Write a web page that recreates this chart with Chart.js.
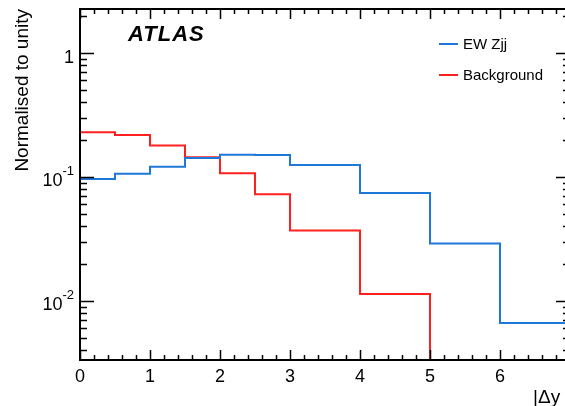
<!DOCTYPE html>
<html>
<head>
<meta charset="utf-8">
<script src="https://cdn.jsdelivr.net/npm/chart.js@4/dist/chart.umd.min.js"></script>
<style>
  html, body { margin: 0; padding: 0; background: #fff; overflow: hidden; }
  #wrap { width: 575px; height: 406px; }
</style>
</head>
<body>
<div id="wrap"><canvas id="myChart" width="575" height="406"></canvas></div>
<script>
// bin edges in |dy| and normalised contents per bin
const binEdges = [0, 0.5, 1, 1.5, 2, 2.5, 3, 4, 5, 6, 7];
const ewZjj = [0.096, 0.106, 0.121, 0.142, 0.151, 0.150, 0.1245, 0.0743, 0.029, 0.00665];
const background = [0.229, 0.218, 0.179, 0.144, 0.107, 0.0726, 0.0369, 0.0114, 0, 0];

const xTickLabels = ['0', '1', '2', '3', '4', '5', '6'];
const yTickValues = [1, 0.1, 0.01];
const yTickBases = ['1', '10', '10'];
const yTickExps = ['', '-1', '-2'];

const yMin = 0.00334;
const yMax = 2.26;
const font = '"Liberation Sans", Arial, Helvetica, sans-serif';

// turn bins into step points (left edge of each bin + closing edge)
function histPoints(values) {
  const pts = [];
  let last = 0;
  for (let i = 0; i < values.length; i++) {
    if (values[i] <= 0) {
      // drop out of the visible range at this edge
      pts.push({ x: binEdges[i], y: yMin / 10 });
      return pts;
    }
    pts.push({ x: binEdges[i], y: values[i] });
    last = values[i];
  }
  pts.push({ x: binEdges[values.length], y: last });
  return pts;
}

const atlasFrame = {
  id: 'atlasFrame',
  afterDatasetsDraw(chart) {
    const ctx = chart.ctx;
    const area = chart.chartArea;
    const xs = chart.scales.x;
    const ys = chart.scales.y;
    ctx.save();
    ctx.strokeStyle = '#000';

    // ticks on x (bottom + top)
    ctx.lineWidth = 1.5;
    for (let i = 0; i <= 35; i++) {
      const v = i * 0.2;
      const px = Math.round(xs.getPixelForValue(v)) + 0.5;
      const len = (i % 5 === 0) ? 10 : 5;
      ctx.beginPath();
      ctx.moveTo(px, area.bottom);
      ctx.lineTo(px, area.bottom - len);
      ctx.moveTo(px, area.top);
      ctx.lineTo(px, area.top + len);
      ctx.stroke();
    }

    // ticks on y (left + right), log style
    for (let d = -3; d <= 0; d++) {
      for (let k = 1; k <= 9; k++) {
        const v = k * Math.pow(10, d);
        if (v < yMin || v > yMax) continue;
        const py = Math.round(ys.getPixelForValue(v)) + 0.5;
        const len = (k === 1) ? 14 : 7;
        ctx.beginPath();
        ctx.moveTo(area.left, py);
        ctx.lineTo(area.left + len, py);
        ctx.moveTo(area.right, py);
        ctx.lineTo(area.right - len, py);
        ctx.stroke();
      }
    }

    // frame
    ctx.lineWidth = 2;
    ctx.strokeRect(area.left, area.top, area.right - area.left, area.bottom - area.top);

    // x tick labels
    ctx.fillStyle = '#000';
    ctx.font = '18px ' + font;
    ctx.textAlign = 'center';
    ctx.textBaseline = 'alphabetic';
    xTickLabels.forEach((lab) => {
      ctx.fillText(lab, xs.getPixelForValue(Number(lab)), 382);
    });

    // y tick labels with exponents
    yTickValues.forEach((v, i) => {
      const py = ys.getPixelForValue(v);
      const right = 74;
      ctx.textAlign = 'right';
      if (yTickExps[i]) {
        ctx.font = '13px ' + font;
        const ew = ctx.measureText(yTickExps[i]).width;
        ctx.fillText(yTickExps[i], right, py - 2);
        ctx.font = '18px ' + font;
        ctx.fillText(yTickBases[i], right - ew, py + 9);
      } else {
        ctx.font = '18px ' + font;
        ctx.fillText(yTickBases[i], right, py + 10);
      }
    });

    // axis titles (x title runs off the right edge as in the original)
    ctx.font = '19px ' + font;
    ctx.textAlign = 'left';
    ctx.fillText('|\u0394y', 533, 403);

    ctx.save();
    ctx.translate(28, 9);
    ctx.rotate(-Math.PI / 2);
    ctx.font = '19px ' + font;
    ctx.textAlign = 'right';
    ctx.fillText('Normalised to unity', 0, 0);
    ctx.restore();

    // ATLAS label
    ctx.save();
    ctx.font = 'italic bold 22px ' + font;
    ctx.letterSpacing = '1px';
    ctx.textAlign = 'left';
    ctx.textBaseline = 'middle';
    ctx.fillText('ATLAS', 128, 35);
    ctx.restore();

    // legend
    ctx.font = '15px ' + font;
    ctx.textAlign = 'left';
    ctx.textBaseline = 'middle';
    const legendY = [44, 75];
    chart.data.datasets.forEach((ds, i) => {
      ctx.strokeStyle = ds.borderColor;
      ctx.lineWidth = 2;
      ctx.beginPath();
      ctx.moveTo(439, legendY[i]);
      ctx.lineTo(458, legendY[i]);
      ctx.stroke();
      ctx.fillStyle = '#000';
      ctx.fillText(ds.label, 463, legendY[i] + 1);
    });

    ctx.restore();
  }
};

function buildGraph() {
  const ctx = document.getElementById('myChart');
  new Chart(ctx, {
    type: 'line',
    data: {
      datasets: [
        {
          label: 'EW Zjj',
          data: histPoints(ewZjj),
          borderColor: '#1f78d8',
          borderWidth: 2,
          stepped: 'before',
          pointRadius: 0,
          fill: false
        },
        {
          label: 'Background',
          data: histPoints(background),
          borderColor: '#ff1f1f',
          borderWidth: 2,
          stepped: 'before',
          pointRadius: 0,
          fill: false
        }
      ]
    },
    options: {
      responsive: false,
      animation: false,
      events: [],
      layout: { padding: { top: 9, right: 5, left: 0, bottom: 0 } },
      plugins: {
        legend: { display: false },
        tooltip: { enabled: false }
      },
      scales: {
        x: {
          type: 'linear',
          min: 0,
          max: 7,
          grid: { display: false },
          border: { display: false },
          ticks: { display: false },
          afterFit: (s) => { s.height = 46; }
        },
        y: {
          type: 'logarithmic',
          min: yMin,
          max: yMax,
          grid: { display: false },
          border: { display: false },
          ticks: { display: false },
          afterFit: (s) => { s.width = 80; }
        }
      }
    },
    plugins: [atlasFrame]
  });
}

window.addEventListener('DOMContentLoaded', buildGraph);
</script>
</body>
</html>
